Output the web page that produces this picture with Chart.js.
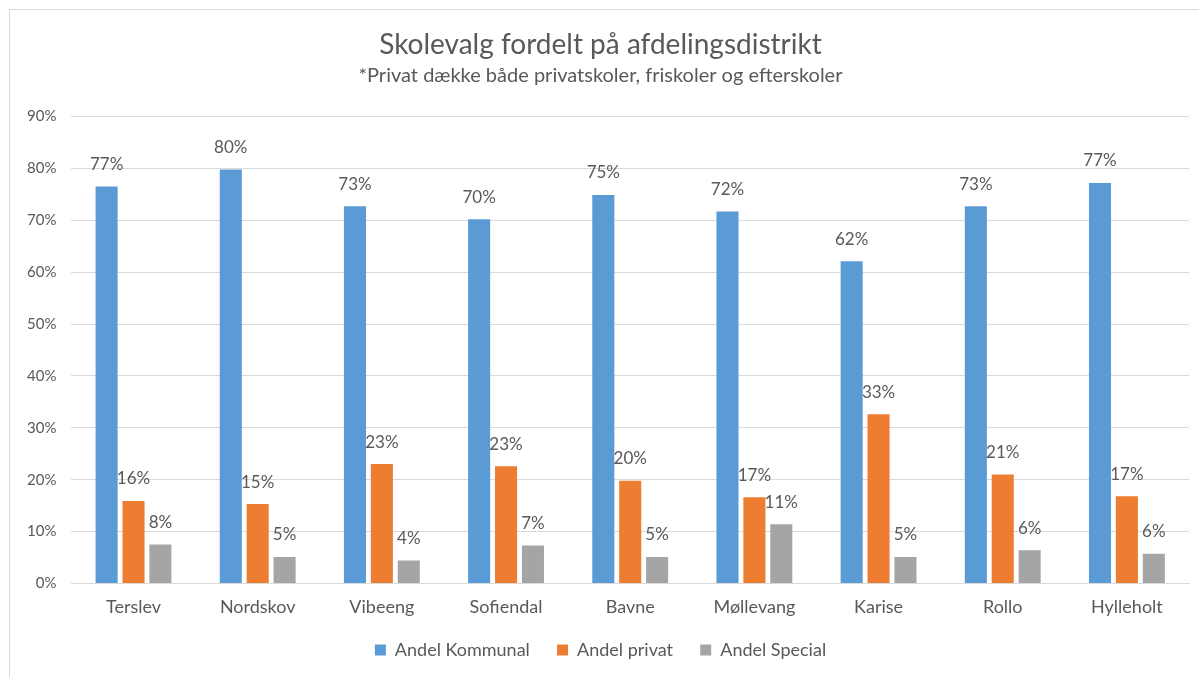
<!DOCTYPE html>
<html lang="da">
<head>
  <meta charset="UTF-8" />
  <title>Skolevalg fordelt på afdelingsdistrikt</title>
  <script src="https://cdn.jsdelivr.net/npm/chart.js"></script>
  <style>
    html, body { margin: 0; padding: 0; background: #fff; overflow: hidden; }
    .ramme {
      position: absolute; left: 9px; top: 9px;
      width: 1300px; height: 800px;
      border: 1px solid #d9d9d9; box-sizing: border-box;
    }
    #skolevalg { position: absolute; left: 0; top: 0; }
  </style>
</head>
<body>

  <div class="ramme"></div>
  <canvas id="skolevalg" width="1199" height="677"></canvas>

  <script>
    // distrikter
    const distrikter = ['Terslev', 'Nordskov', 'Vibeeng', 'Sofiendal', 'Bavne', 'Møllevang', 'Karise', 'Rollo', 'Hylleholt'];

    // andele i procent
    const andelKommunal = [76.5, 79.8, 72.7, 70.2, 74.9, 71.7, 62.1, 72.7, 77.2];
    const andelPrivat   = [15.9, 15.3, 23.0, 22.6, 19.8, 16.6, 32.6, 21.0, 16.8];
    const andelSpecial  = [7.5, 5.1, 4.4, 7.3, 5.1, 11.4, 5.1, 6.4, 5.7];

    const yTicks = [0, 10, 20, 30, 40, 50, 60, 70, 80, 90];

    const tekstFarve = '#595959';
    const skrift = "'Lato', 'Open Sans', sans-serif";

    // lille plugin til procent-etiketter over søjlerne
    const etiketter = {
      id: 'etiketter',
      afterDatasetsDraw(chart) {
        const ctx = chart.ctx;
        ctx.save();
        ctx.font = '17px ' + skrift;
        ctx.fillStyle = tekstFarve;
        ctx.textAlign = 'center';
        ctx.textBaseline = 'middle';
        chart.data.datasets.forEach((ds, i) => {
          const meta = chart.getDatasetMeta(i);
          meta.data.forEach((bar, j) => {
            ctx.fillText(Math.round(ds.data[j]) + '%', bar.x, bar.y - 22);
          });
        });
        ctx.restore();
      }
    };

    const ctx = document.getElementById('skolevalg').getContext('2d');

    const chart = new Chart(ctx, {
      type: 'bar',
      data: {
        labels: distrikter,
        datasets: [
          { label: 'Andel Kommunal', data: andelKommunal, backgroundColor: '#5b9bd5' },
          { label: 'Andel privat', data: andelPrivat, backgroundColor: '#ed7d31' },
          { label: 'Andel Special', data: andelSpecial, backgroundColor: '#a5a5a5' }
        ]
      },
      options: {
        responsive: false,
        animation: false,
        categoryPercentage: 0.65,
        barPercentage: 0.82,
        layout: { padding: { left: 12, right: 10, top: 14, bottom: 8 } },
        scales: {
          y: {
            min: 0,
            max: 90,
            afterBuildTicks: axis => { axis.ticks = yTicks.map(v => ({ value: v })); },
            ticks: {
              callback: v => v + '%',
              color: tekstFarve,
              font: { size: 15, family: skrift },
              padding: 15
            },
            grid: { color: '#d9d9d9', drawTicks: false },
            border: { display: false }
          },
          x: {
            ticks: {
              color: tekstFarve,
              font: { size: 18, family: skrift },
              padding: 5
            },
            grid: { display: false },
            border: { color: '#d9d9d9' }
          }
        },
        plugins: {
          title: {
            display: true,
            text: 'Skolevalg fordelt på afdelingsdistrikt',
            color: tekstFarve,
            font: { size: 28, family: skrift, weight: 'normal' },
            padding: { top: 14, bottom: 2 }
          },
          subtitle: {
            display: true,
            text: '*Privat dække både privatskoler, friskoler og efterskoler',
            color: tekstFarve,
            font: { size: 20, family: skrift },
            padding: { bottom: 29 }
          },
          legend: {
            position: 'bottom',
            labels: {
              boxWidth: 11,
              boxHeight: 11,
              color: tekstFarve,
              font: { size: 18, family: skrift },
              padding: 18,
              // lidt ekstra luft mellem punkterne
              generateLabels: chart => {
                const items = Chart.defaults.plugins.legend.labels.generateLabels(chart);
                items.forEach((it, i) => { if (i < items.length - 1) it.text += '  '; });
                return items;
              }
            }
          },
          tooltip: { enabled: false }
        }
      },
      plugins: [etiketter]
    });
  </script>

</body>
</html>
